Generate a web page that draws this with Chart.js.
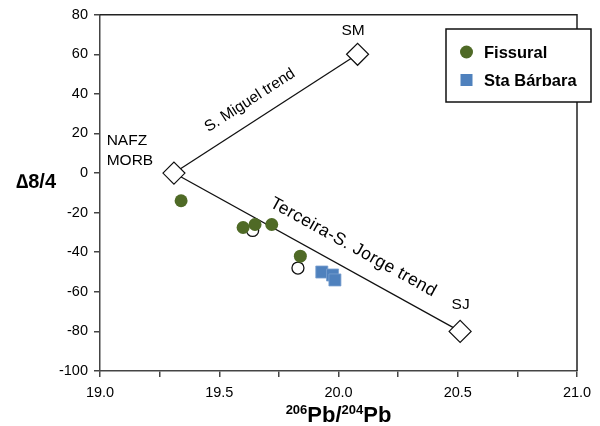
<!DOCTYPE html>
<html>
<head>
<meta charset="utf-8">
<script src="https://cdn.jsdelivr.net/npm/chart.js@4/dist/chart.umd.min.js"></script>
<style>
  html, body { margin: 0; padding: 0; background: #fff; }
  #wrap { position: relative; width: 600px; height: 426px; }
</style>
</head>
<body>
<div id="wrap"><canvas id="pbChart" width="600" height="426"></canvas></div>
<script>
// end members (diamonds)
var endNames = ['NAFZ MORB', 'SM', 'SJ'];
var endX = [19.31, 20.08, 20.51];
var endY = [0, 60, -80];

// Fissural (green dots)
var fissX = [19.34, 19.60, 19.65, 19.72, 19.84];
var fissY = [-14, -27.5, -26, -26, -42];

// open circles
var openX = [19.64, 19.83];
var openY = [-29, -48];

// Sta Barbara (blue squares)
var stbX = [19.93, 19.975, 19.985];
var stbY = [-50, -51.5, -54];

// axes
var xTickValues = [19.0, 19.25, 19.5, 19.75, 20.0, 20.25, 20.5, 20.75, 21.0];
var xTickLabels = ['19.0', '', '19.5', '', '20.0', '', '20.5', '', '21.0'];
var yTickValues = [-100, -80, -60, -40, -20, 0, 20, 40, 60, 80];
var yTickLabels = ['-100', '-80', '-60', '-40', '-20', '0', '20', '40', '60', '80'];

var FONT = '"Liberation Sans", Arial, sans-serif';

function pts(xs, ys){
	var out = [];
	for(var i in xs){ out.push({x: xs[i], y: ys[i]}); }
	return out;
}

var decorPlugin = {
	id: 'decor',
	afterDatasetsDraw: function(chart){
		var ctx = chart.ctx, a = chart.chartArea;
		var sx = chart.scales.x, sy = chart.scales.y;
		ctx.save();

		// top and right frame
		ctx.strokeStyle = '#222'; ctx.lineWidth = 1.5;
		ctx.beginPath();
		ctx.moveTo(a.left, a.top); ctx.lineTo(a.right, a.top); ctx.lineTo(a.right, a.bottom);
		ctx.stroke();

		ctx.fillStyle = '#000';
		ctx.font = '15.5px ' + FONT;

		// end member labels
		ctx.textAlign = 'center'; ctx.textBaseline = 'middle';
		ctx.fillText(endNames[1], sx.getPixelForValue(20.061), sy.getPixelForValue(71.9));
		ctx.fillText(endNames[2], sx.getPixelForValue(20.512), sy.getPixelForValue(-66.7));
		ctx.textAlign = 'left';
		ctx.fillText('NAFZ', sx.getPixelForValue(19.028), sy.getPixelForValue(16.1));
		ctx.fillText('MORB', sx.getPixelForValue(19.028), sy.getPixelForValue(6.0));

		// trend labels along the lines
		function trendLabel(txt, i, lx, ly, size, spacing){
			var x0 = sx.getPixelForValue(endX[0]), y0 = sy.getPixelForValue(endY[0]);
			var x1 = sx.getPixelForValue(endX[i]), y1 = sy.getPixelForValue(endY[i]);
			var ang = Math.atan2(y1 - y0, x1 - x0);
			ctx.save();
			ctx.font = size + 'px ' + FONT;
			ctx.letterSpacing = spacing + 'px';
			ctx.translate(sx.getPixelForValue(lx), sy.getPixelForValue(ly));
			ctx.rotate(ang);
			ctx.textAlign = 'center'; ctx.textBaseline = 'middle';
			ctx.fillText(txt, 0, 0);
			ctx.restore();
		}
		trendLabel('S. Miguel trend', 1, 19.629, 36.7, 15.5, 0);
		trendLabel('Terceira-S. Jorge trend', 2, 20.062, -37.5, 17.5, 0.4);

		// y title
		ctx.font = 'bold 20px ' + FONT;
		ctx.textAlign = 'center'; ctx.textBaseline = 'middle';
		ctx.fillText('\u22068/4', 36, 182);

		// x title with superscripts
		var parts = [['206', 13, -8], ['Pb/', 22, 0], ['204', 13, -8], ['Pb', 22, 0]];
		var total = 0;
		for(var p in parts){ ctx.font = 'bold ' + parts[p][1] + 'px ' + FONT; total += ctx.measureText(parts[p][0]).width; }
		var cx = (a.left + a.right) / 2 - total / 2;
		ctx.textAlign = 'left'; ctx.textBaseline = 'alphabetic';
		for(var p in parts){
			ctx.font = 'bold ' + parts[p][1] + 'px ' + FONT;
			ctx.fillText(parts[p][0], cx, 422 + parts[p][2]);
			cx += ctx.measureText(parts[p][0]).width;
		}

		// legend box
		ctx.fillStyle = '#fff';
		ctx.fillRect(446, 29, 145, 73);
		ctx.strokeStyle = '#111'; ctx.lineWidth = 1.5;
		ctx.strokeRect(446, 29, 145, 73);
		ctx.fillStyle = '#4f6a26';
		ctx.beginPath(); ctx.arc(466.5, 52, 6.5, 0, Math.PI * 2); ctx.fill();
		ctx.fillStyle = '#4f81bd';
		ctx.fillRect(460.5, 74, 12, 12);
		ctx.fillStyle = '#000';
		ctx.font = 'bold 16.5px ' + FONT;
		ctx.textBaseline = 'middle';
		ctx.fillText('Fissural', 484, 53);
		ctx.fillText('Sta B\u00e1rbara', 484, 81);

		ctx.restore();
	}
};

(function () {
	'use strict'

	var ctx = document.getElementById('pbChart');
	var myChart = new Chart(ctx, {
		type: 'scatter',
		data: {
			datasets: [
				{ label: 'S. Miguel trend', data: pts([endX[0], endX[1]], [endY[0], endY[1]]), showLine: true,
					borderColor: '#111', borderWidth: 1.3, pointRadius: 0, order: 6 },
				{ label: 'Terceira-S. Jorge trend', data: pts([endX[0], endX[2]], [endY[0], endY[2]]), showLine: true,
					borderColor: '#111', borderWidth: 1.3, pointRadius: 0, order: 5 },
				{ label: 'open', data: pts(openX, openY), pointStyle: 'circle', pointRadius: 6,
					backgroundColor: '#fff', borderColor: '#111', borderWidth: 1.3, order: 4 },
				{ label: 'Fissural', data: pts(fissX, fissY), pointStyle: 'circle', pointRadius: 6.5,
					backgroundColor: '#4f6a26', borderColor: '#4f6a26', borderWidth: 0, order: 3 },
				{ label: 'Sta B\u00e1rbara', data: pts(stbX, stbY), pointStyle: 'rect', pointRadius: 8.5,
					backgroundColor: '#4f81bd', borderColor: '#7aa0d0', borderWidth: 0.8, order: 2 },
				{ label: 'end members', data: pts(endX, endY), pointStyle: 'rectRot', pointRadius: 11,
					backgroundColor: '#fff', borderColor: '#111', borderWidth: 1.2, order: 1 }
			]
		},
		options: {
			responsive: false,
			animation: false,
			events: [],
			layout: { padding: { left: 0, right: 23, top: 14, bottom: 0 } },
			scales: {
				x: {
					type: 'linear', min: 19, max: 21,
					afterBuildTicks: function(s){ s.ticks = xTickValues.map(function(v){ return {value: v}; }); },
					afterFit: function(s){ s.height = 55; },
					ticks: { autoSkip: false, maxRotation: 0, padding: 7, color: '#000',
						font: { family: FONT, size: 14.5 },
						callback: function(v, i){ return xTickLabels[i]; } },
					grid: { drawOnChartArea: false, drawTicks: true, tickLength: 6, color: '#444', lineWidth: 1.5 },
					border: { color: '#444', width: 1.5 }
				},
				y: {
					type: 'linear', min: -100, max: 80,
					afterBuildTicks: function(s){ s.ticks = yTickValues.map(function(v){ return {value: v}; }); },
					afterFit: function(s){ s.width = 100; },
					ticks: { autoSkip: false, padding: 6, color: '#000',
						font: { family: FONT, size: 14.5 },
						callback: function(v, i){ return yTickLabels[i]; } },
					grid: { drawOnChartArea: false, drawTicks: true, tickLength: 6, color: '#444', lineWidth: 1.5 },
					border: { color: '#444', width: 1.5 }
				}
			},
			plugins: { legend: { display: false }, tooltip: { enabled: false } }
		},
		plugins: [decorPlugin]
	});
})()
</script>
</body>
</html>
